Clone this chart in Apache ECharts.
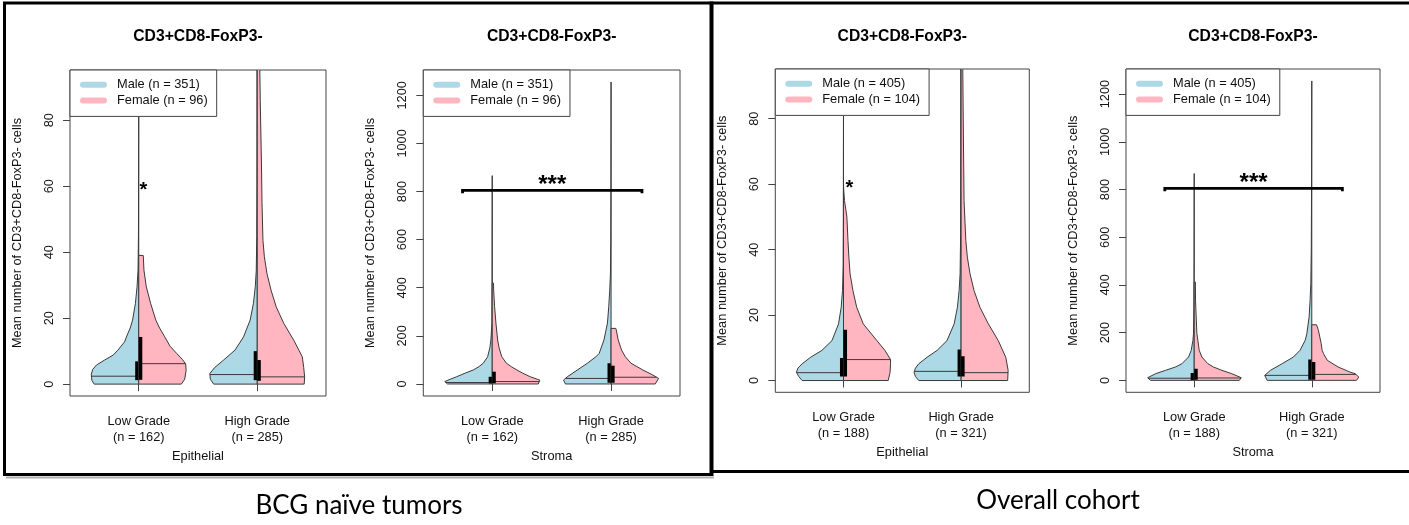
<!DOCTYPE html>
<html><head><meta charset="utf-8">
<script src="https://cdn.jsdelivr.net/npm/echarts@6/dist/echarts.min.js"></script>
<style>html,body{margin:0;padding:0;background:#fff}#c{width:1409px;height:525px}</style>
</head><body><div id="c"></div>
<script>
// ---------------- DATA ----------------
const groups = ['Low Grade', 'High Grade'];
const nBCG = [162, 285];
const nAll = [188, 321];
const legendBCG = ['Male (n = 351)', 'Female (n = 96)'];
const legendAll = ['Male (n = 405)', 'Female (n = 104)'];
const yTicksEpi = [0, 20, 40, 60, 80];
const yTicksStr = [0, 200, 400, 600, 800, 1000, 1200];
const plotTitle = 'CD3+CD8-FoxP3-';
const yTitle = 'Mean number of CD3+CD8-FoxP3- cells';

// density profiles: [value, relative density (0..1)]
// BCG naive - Epithelial
const bcgEpiLowMale = [[0,0.94],[1.2,0.99],[3,1.0],[4.5,0.97],[5.8,0.89],[7.3,0.72],[8.8,0.54],[10.3,0.44],[12.8,0.3],[14.3,0.26],[17,0.18],[19.4,0.13],[24.5,0.07],[29.5,0.036],[34.5,0.015],[45,0.006],[60,0.003],[91,0]];
const bcgEpiLowFemale = [[0,0.9],[1.5,0.97],[4.2,1.0],[6.1,0.99],[7.5,0.92],[9.3,0.8],[11.5,0.66],[14.3,0.55],[17,0.44],[19.4,0.36],[24.5,0.25],[29.5,0.16],[34.5,0.11],[39,0.095]];
const bcgEpiHighMale = [[0,0.92],[1.5,0.99],[3.2,1.0],[5,0.9],[7.3,0.71],[10.3,0.47],[14.3,0.29],[19.4,0.15],[24.5,0.08],[29.5,0.042],[34.5,0.021],[45,0.01],[60,0.006],[80,0.004],[100,0.003]];
const bcgEpiHighFemale = [[0,0.99],[2.2,1.0],[5,0.98],[8.3,0.95],[13.3,0.77],[18.4,0.56],[23.4,0.4],[28.5,0.29],[33.5,0.205],[38.6,0.15],[43.6,0.12],[55,0.1],[65.8,0.09],[86,0.063],[100,0.05]];
const bcgEpiMedMale = [2.4, 2.9];
const bcgEpiMedFemale = [6.2, 2.2];
const bcgEpiIqrMale = [[1.2, 6.9], [1.2, 10]];
const bcgEpiIqrFemale = [[1.3, 14.3], [1.0, 7.3]];
const bcgEpiStar = [1.04, 60];

// BCG naive - Stroma
const bcgStrLowMale = [[0,0.94],[10,1.0],[20,0.88],[30,0.75],[45,0.57],[58,0.4],[72,0.28],[86,0.19],[113,0.097],[150,0.05],[183,0.028],[253,0.006],[400,0.003],[600,0.002],[866,0]];
const bcgStrLowFemale = [[0,0.97],[16,1.0],[30,0.8],[45,0.64],[58,0.52],[72,0.4],[86,0.3],[113,0.2],[150,0.145],[183,0.114],[253,0.078],[321,0.05],[390,0.03],[419,0.028]];
const bcgStrHighMale = [[0,0.96],[16,1.0],[30,0.92],[58,0.71],[86,0.5],[113,0.32],[127,0.25],[183,0.15],[253,0.076],[321,0.049],[390,0.028],[461,0.013],[598,0.006],[800,0.003],[1255,0]];
const bcgStrHighFemale = [[0,0.93],[23,1.0],[37,0.88],[58,0.67],[86,0.42],[113,0.3],[141,0.22],[183,0.15],[224,0.11],[231,0.1]];
const bcgStrMedMale = [6, 23];
const bcgStrMedFemale = [10, 28];
const bcgStrIqrMale = [[2, 30], [5, 86]];
const bcgStrIqrFemale = [[3, 51], [5, 76]];
const bcgStrBracket = [0.75, 2.26, 805];

// Overall - Epithelial
const allEpiLowMale = [[0,0.88],[1.2,0.95],[2.5,1.0],[3.8,0.97],[5.1,0.88],[7.1,0.7],[9.2,0.46],[12.2,0.245],[17.3,0.106],[22.4,0.049],[27.5,0.021],[35,0.008],[50,0.004],[91,0]];
const allEpiLowFemale = [[0,0.95],[2.5,0.99],[5.1,1.0],[6.4,1.0],[9.2,0.88],[12.2,0.71],[17.3,0.42],[22.4,0.28],[27.5,0.2],[32.6,0.14],[37.7,0.114],[42.8,0.095],[50,0.072],[55,0.021],[58,0.006],[60,0]];
const allEpiHighMale = [[0,0.9],[1.2,0.97],[2.5,1.0],[3.8,0.97],[5.1,0.9],[7.1,0.725],[9.2,0.51],[12.2,0.3],[17.3,0.148],[22.4,0.078],[27.5,0.042],[32.6,0.021],[45,0.01],[70,0.006],[100,0.004]];
const allEpiHighFemale = [[0,0.99],[3.1,1.0],[7.1,0.95],[12.2,0.79],[17.3,0.58],[22.4,0.4],[27.5,0.275],[32.6,0.19],[37.7,0.133],[42.8,0.1],[55,0.063],[75,0.049],[95,0.036],[100,0.034]];
const allEpiMedMale = [2.4, 2.8];
const allEpiMedFemale = [6.4, 2.4];
const allEpiIqrMale = [[1.2, 6.9], [1.2, 9.5]];
const allEpiIqrFemale = [[1.2, 15.5], [1.2, 7.4]];
const allEpiStar = [1.05, 60];

// Overall - Stroma
const allStrLowMale = [[0,0.93],[11,0.99],[28,0.82],[42,0.61],[56,0.4],[70,0.26],[98,0.12],[126,0.063],[168,0.027],[196,0.015],[300,0.006],[500,0.003],[867,0]];
const allStrLowFemale = [[0,0.96],[11,1.0],[28,0.8],[42,0.59],[56,0.41],[70,0.29],[98,0.163],[126,0.106],[168,0.078],[196,0.057],[266,0.042],[336,0.028],[412,0.025]];
const allStrHighMale = [[0,0.95],[21,1.0],[42,0.88],[70,0.63],[98,0.39],[126,0.25],[168,0.14],[196,0.105],[266,0.057],[336,0.036],[406,0.021],[545,0.011],[800,0.005],[1255,0]];
const allStrHighFemale = [[0,0.95],[14,1.0],[28,0.92],[35,0.81],[56,0.56],[84,0.33],[112,0.25],[126,0.22],[154,0.2],[182,0.17],[210,0.14],[233,0.1]];
const allStrMedMale = [9, 21];
const allStrMedFemale = [10, 25];
const allStrIqrMale = [[2, 31], [3, 87]];
const allStrIqrFemale = [[3, 49], [3, 77]];
const allStrBracket = [0.75, 2.26, 805];

// ---------------- STYLE / LAYOUT ----------------
const FONT = "'Liberation Sans', Arial, Helvetica, sans-serif";
const TXT = '#111';
const LINE = '#3a3a3a';
const MALE_C = '#ADD8E6';
const FEMALE_C = '#FFB6C1';
const HALF = 0.4;   // max half-width of a violin in x units
const BOXW = 0.03;  // IQR box width per side in x units

const panels = [
  { grid: {left: 70, top: 70, width: 256, height: 326}, yMin: -3.6, yMax: 95.2, ticks: yTicksEpi, n: nBCG, xName: 'Epithelial', legend: legendBCG,
    male: [bcgEpiLowMale, bcgEpiHighMale], female: [bcgEpiLowFemale, bcgEpiHighFemale],
    medM: bcgEpiMedMale, medF: bcgEpiMedFemale, iqrM: bcgEpiIqrMale, iqrF: bcgEpiIqrFemale, star: bcgEpiStar },
  { grid: {left: 423.3, top: 70, width: 256.7, height: 326}, yMin: -50, yMax: 1305, ticks: yTicksStr, n: nBCG, xName: 'Stroma', legend: legendBCG,
    male: [bcgStrLowMale, bcgStrHighMale], female: [bcgStrLowFemale, bcgStrHighFemale],
    medM: bcgStrMedMale, medF: bcgStrMedFemale, iqrM: bcgStrIqrMale, iqrF: bcgStrIqrFemale, bracket: bcgStrBracket },
  { grid: {left: 775.3, top: 69, width: 254, height: 323.3}, yMin: -3.6, yMax: 95.2, ticks: yTicksEpi, n: nAll, xName: 'Epithelial', legend: legendAll,
    male: [allEpiLowMale, allEpiHighMale], female: [allEpiLowFemale, allEpiHighFemale],
    medM: allEpiMedMale, medF: allEpiMedFemale, iqrM: allEpiIqrMale, iqrF: allEpiIqrFemale, star: allEpiStar },
  { grid: {left: 1126, top: 69, width: 254, height: 323.3}, yMin: -50, yMax: 1305, ticks: yTicksStr, n: nAll, xName: 'Stroma', legend: legendAll,
    male: [allStrLowMale, allStrHighMale], female: [allStrLowFemale, allStrHighFemale],
    medM: allStrMedMale, medF: allStrMedFemale, iqrM: allStrIqrMale, iqrF: allStrIqrFemale, bracket: allStrBracket }
];

function densAt(prof, v) {
  for (let i = 1; i < prof.length; i++) {
    if (v <= prof[i][0]) {
      const a = prof[i-1], b = prof[i];
      const t = (v - a[0]) / (b[0] - a[0] || 1);
      return a[1] + t * (b[1] - a[1]);
    }
  }
  return prof[prof.length-1][1];
}

function violinRender(profiles, medians, iqrs, side, fill) {
  return function (params, api) {
    const pos = api.value(0);
    const g = api.value(1);
    const prof = profiles[g];
    const pts = [api.coord([pos, prof[0][0]])];
    prof.forEach(function (p) { pts.push(api.coord([pos + side * HALF * p[1], p[0]])); });
    pts.push(api.coord([pos, prof[prof.length-1][0]]));
    const m = medians[g];
    const m0 = api.coord([pos, m]);
    const m1 = api.coord([pos + side * HALF * densAt(prof, m), m]);
    const q = iqrs[g];
    const b0 = api.coord([pos, q[1]]);
    const b1 = api.coord([pos + side * BOXW, q[0]]);
    return { type: 'group', children: [
      { type: 'polygon', shape: { points: pts }, style: { fill: fill, stroke: LINE, lineWidth: 1 } },
      { type: 'line', shape: { x1: m0[0], y1: m0[1], x2: m1[0], y2: m1[1] }, style: { stroke: LINE, lineWidth: 1 } },
      { type: 'rect', shape: { x: Math.min(b0[0], b1[0]), y: b0[1], width: Math.abs(b1[0]-b0[0]), height: b1[1]-b0[1] }, style: { fill: '#000' } }
    ]};
  };
}

function starRender(params, api) {
  const c = api.coord([api.value(0), api.value(1)]);
  const size = 20;
  return { type: 'text', x: c[0], y: c[1] + 0.2 * size, style: { text: '*', fontSize: size, fontWeight: 'bold', fontFamily: FONT, fill: '#000', align: 'center', verticalAlign: 'middle' } };
}

function bracketRender(params, api) {
  const a = api.coord([api.value(0), api.value(2)]);
  const b = api.coord([api.value(1), api.value(2)]);
  const size = 24;
  return { type: 'group', children: [
    { type: 'polyline', shape: { points: [[a[0], a[1]+3], [a[0], a[1]], [b[0], b[1]], [b[0], b[1]+3]] }, style: { stroke: '#000', lineWidth: 2.8, fill: null } },
    { type: 'text', x: (a[0]+b[0])/2, y: a[1] - 10 + 0.2*size, style: { text: '***', fontSize: size, fontWeight: 'bold', fontFamily: FONT, fill: '#000', align: 'center', verticalAlign: 'middle' } }
  ]};
}

const titles = panels.map(function (p) {
  return { text: plotTitle, left: p.grid.left + p.grid.width / 2, top: 29, textAlign: 'center', padding: 0,
    textStyle: { fontFamily: FONT, fontSize: 15.7, fontWeight: 'bold', color: '#000' } };
});
titles.push({ text: 'BCG naïve tumors', left: 359, top: 493, textAlign: 'center', padding: 0,
  textStyle: { fontFamily: 'Lato, "Open Sans", sans-serif', fontSize: 26, fontWeight: 'normal', color: '#000' } });
titles.push({ text: 'Overall cohort', left: 1058, top: 488, textAlign: 'center', padding: 0,
  textStyle: { fontFamily: 'Lato, "Open Sans", sans-serif', fontSize: 26, fontWeight: 'normal', color: '#000' } });

const series = [];
panels.forEach(function (p, i) {
  series.push({ type: 'custom', name: p.legend[0], xAxisIndex: i, yAxisIndex: i, clip: true, silent: true,
    itemStyle: { color: MALE_C }, data: [[1, 0], [2, 1]], encode: { x: 0, y: 1 },
    renderItem: violinRender(p.male, p.medM, p.iqrM, -1, MALE_C) });
  series.push({ type: 'custom', name: p.legend[1], xAxisIndex: i, yAxisIndex: i, clip: true, silent: true,
    itemStyle: { color: FEMALE_C }, data: [[1, 0], [2, 1]], encode: { x: 0, y: 1 },
    renderItem: violinRender(p.female, p.medF, p.iqrF, 1, FEMALE_C) });
  if (p.star) {
    series.push({ type: 'custom', xAxisIndex: i, yAxisIndex: i, silent: true, data: [p.star], renderItem: starRender, z: 5 });
  }
  if (p.bracket) {
    series.push({ type: 'custom', xAxisIndex: i, yAxisIndex: i, silent: true, data: [p.bracket], encode: { x: [0, 1], y: 2 }, renderItem: bracketRender, z: 5 });
  }
});

const option = {
  backgroundColor: '#fff',
  animation: false,
  title: titles,
  grid: panels.map(function (p) {
    return Object.assign({ show: true, borderColor: '#444', borderWidth: 1, containLabel: false, outerBoundsMode: 'none' }, p.grid);
  }),
  xAxis: panels.map(function (p, i) {
    return { type: 'value', gridIndex: i, min: 0.42, max: 2.58,
      axisLine: { show: false }, splitLine: { show: false },
      axisTick: { show: true, customValues: [1, 2], length: 7, lineStyle: { color: '#444' } },
      axisLabel: { customValues: [1, 2], margin: 17, lineHeight: 16, fontSize: 12.8, fontFamily: FONT, color: TXT,
        formatter: function (v) { const k = Math.round(v) - 1; return groups[k] + '\n(n = ' + p.n[k] + ')'; } },
      name: p.xName, nameLocation: 'middle', nameGap: 46,
      nameTextStyle: { fontSize: 12.8, fontFamily: FONT, color: TXT } };
  }),
  yAxis: panels.map(function (p, i) {
    return { type: 'value', gridIndex: i, min: p.yMin, max: p.yMax,
      axisLine: { show: false }, splitLine: { show: false },
      axisTick: { show: true, customValues: p.ticks, length: 7, lineStyle: { color: '#444' } },
      axisLabel: { customValues: p.ticks, rotate: 90, margin: 14, fontSize: 12.8, fontFamily: FONT, color: TXT,
        formatter: function (v) { return String(v); } },
      name: yTitle, nameLocation: 'middle', nameGap: 46, nameRotate: 90,
      nameTextStyle: { fontSize: 12.8, fontFamily: FONT, color: TXT } };
  }),
  legend: panels.map(function (p) {
    return { data: p.legend, orient: 'vertical', left: p.grid.left, top: p.grid.top, selectedMode: false,
      backgroundColor: '#fff', borderColor: '#444', borderWidth: 1, borderRadius: 0,
      padding: [7, 9, 8, 10], itemGap: 0, itemWidth: 27, itemHeight: 6,
      icon: 'path://M3,0 L24,0 A3,3 0 0 1 24,6 L3,6 A3,3 0 0 1 3,0 Z',
      textStyle: { fontSize: 12.8, fontFamily: FONT, color: TXT, lineHeight: 15.7, padding: [0, 0, 0, 5] } };
  }),
  graphic: [
    { type: 'line', shape: { x1: 6, y1: 477.5, x2: 714, y2: 477.5 }, style: { stroke: '#b0b0b0', lineWidth: 2 }, silent: true },
    { type: 'rect', shape: { x: 4.5, y: 3, width: 707.5, height: 471.5 }, style: { fill: null, stroke: '#000', lineWidth: 3 }, silent: true },
    { type: 'rect', shape: { x: 711, y: 3, width: 720, height: 468.5 }, style: { fill: null, stroke: '#000', lineWidth: 3 }, silent: true }
  ],
  series: series
};

const chart = echarts.init(document.getElementById('c'), null, { renderer: 'canvas' });
chart.setOption(option);
</script></body></html>
